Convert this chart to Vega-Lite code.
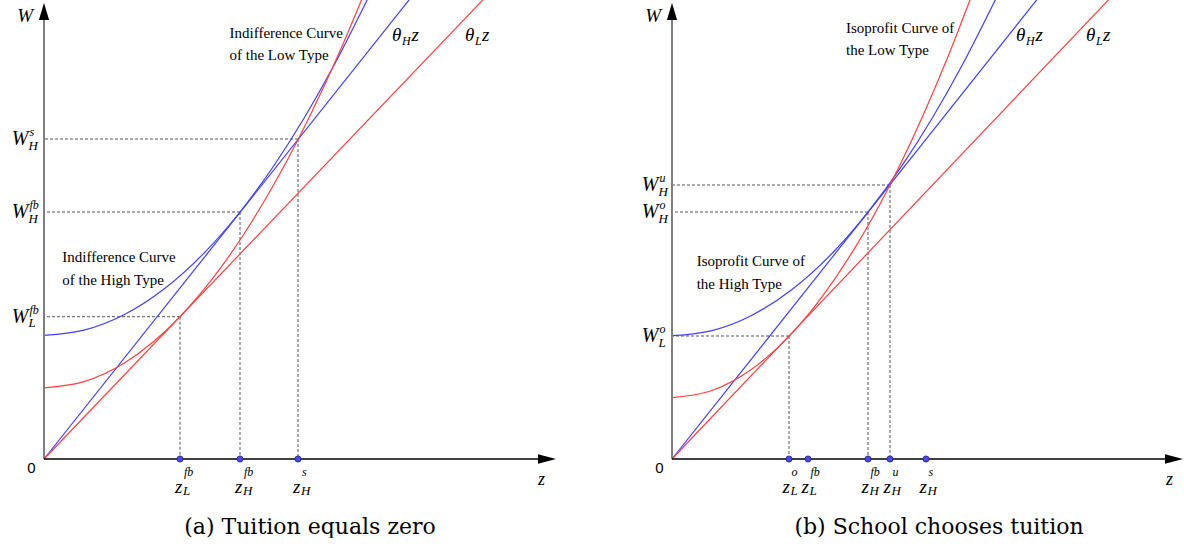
{
  "$schema": "https://vega.github.io/schema/vega-lite/v6.json",
  "padding": 0,
  "spacing": 0,
  "bounds": "flush",
  "background": "white",
  "config": {"view": {"stroke": null}, "axis": {"disable": true}, "legend": {"disable": true}},
  "datasets": {
    "curves": [
      {"p": "a", "s": "thetaH", "z": 0, "W": 0}, {"p": "a", "s": "thetaH", "z": 370, "W": 465.3},
      {"p": "a", "s": "thetaL", "z": 0, "W": 0}, {"p": "a", "s": "thetaL", "z": 445, "W": 465.5},
      {"p": "a", "s": "hi", "z": 0, "W": 123.7}, {"p": "a", "s": "hi", "z": 40, "W": 128.8}, {"p": "a", "s": "hi", "z": 80, "W": 144.2}, {"p": "a", "s": "hi", "z": 120, "W": 169.9}, {"p": "a", "s": "hi", "z": 160, "W": 205.9}, {"p": "a", "s": "hi", "z": 196, "W": 247.0}, {"p": "a", "s": "hi", "z": 230, "W": 293.5}, {"p": "a", "s": "hi", "z": 260, "W": 340.7}, {"p": "a", "s": "hi", "z": 290, "W": 393.7}, {"p": "a", "s": "hi", "z": 325, "W": 462.8},
      {"p": "a", "s": "lo", "z": 0, "W": 71.2}, {"p": "a", "s": "lo", "z": 40, "W": 77.4}, {"p": "a", "s": "lo", "z": 80, "W": 95.8}, {"p": "a", "s": "lo", "z": 110, "W": 117.7}, {"p": "a", "s": "lo", "z": 136, "W": 142.3}, {"p": "a", "s": "lo", "z": 170, "W": 182.3}, {"p": "a", "s": "lo", "z": 200, "W": 225.0}, {"p": "a", "s": "lo", "z": 230, "W": 274.7}, {"p": "a", "s": "lo", "z": 254, "W": 319.3}, {"p": "a", "s": "lo", "z": 280, "W": 372.7}, {"p": "a", "s": "lo", "z": 300, "W": 417.3}, {"p": "a", "s": "lo", "z": 320, "W": 465.0},
      {"p": "b", "s": "thetaH", "z": 0, "W": 0}, {"p": "b", "s": "thetaH", "z": 370, "W": 465.8},
      {"p": "b", "s": "thetaL", "z": 0, "W": 0}, {"p": "b", "s": "thetaL", "z": 445, "W": 468.1},
      {"p": "b", "s": "hi", "z": 0, "W": 123.3}, {"p": "b", "s": "hi", "z": 40, "W": 128.4}, {"p": "b", "s": "hi", "z": 80, "W": 143.8}, {"p": "b", "s": "hi", "z": 120, "W": 169.5}, {"p": "b", "s": "hi", "z": 160, "W": 205.5}, {"p": "b", "s": "hi", "z": 196, "W": 246.8}, {"p": "b", "s": "hi", "z": 230, "W": 293.3}, {"p": "b", "s": "hi", "z": 260, "W": 340.5}, {"p": "b", "s": "hi", "z": 290, "W": 393.5}, {"p": "b", "s": "hi", "z": 325, "W": 462.5},
      {"p": "b", "s": "lo", "z": 0, "W": 61.3}, {"p": "b", "s": "lo", "z": 40, "W": 68.5}, {"p": "b", "s": "lo", "z": 80, "W": 90.0}, {"p": "b", "s": "lo", "z": 117, "W": 122.6}, {"p": "b", "s": "lo", "z": 150, "W": 162.1}, {"p": "b", "s": "lo", "z": 180, "W": 206.4}, {"p": "b", "s": "lo", "z": 218, "W": 274.1}, {"p": "b", "s": "lo", "z": 250, "W": 341.2}, {"p": "b", "s": "lo", "z": 275, "W": 399.9}, {"p": "b", "s": "lo", "z": 300, "W": 464.3}
    ],
    "guides": [
      {"p": "a", "z": 136, "W": 142.3}, {"p": "a", "z": 196, "W": 247}, {"p": "a", "z": 254, "W": 320},
      {"p": "b", "z": 117, "W": 123}, {"p": "b", "z": 196, "W": 247}, {"p": "b", "z": 218, "W": 274}
    ],
    "dots": [
      {"p": "a", "z": 136}, {"p": "a", "z": 196}, {"p": "a", "z": 254},
      {"p": "b", "z": 117}, {"p": "b", "z": 136}, {"p": "b", "z": 196}, {"p": "b", "z": 218}, {"p": "b", "z": 254}
    ],
    "wlabels": [
      {"p": "a", "W": 320, "main": "W", "sub": "H", "sup": "s"},
      {"p": "a", "W": 247, "main": "W", "sub": "H", "sup": "fb"},
      {"p": "a", "W": 142.3, "main": "W", "sub": "L", "sup": "fb"},
      {"p": "b", "W": 274, "main": "W", "sub": "H", "sup": "u"},
      {"p": "b", "W": 247, "main": "W", "sub": "H", "sup": "o"},
      {"p": "b", "W": 123, "main": "W", "sub": "L", "sup": "o"}
    ],
    "zlabels": [
      {"p": "a", "z": 136, "main": "z", "sub": "L", "sup": "fb"},
      {"p": "a", "z": 196, "main": "z", "sub": "H", "sup": "fb"},
      {"p": "a", "z": 254, "main": "z", "sub": "H", "sup": "s"},
      {"p": "b", "z": 117, "main": "z", "sub": "L", "sup": "o"},
      {"p": "b", "z": 136, "main": "z", "sub": "L", "sup": "fb"},
      {"p": "b", "z": 196, "main": "z", "sub": "H", "sup": "fb"},
      {"p": "b", "z": 218, "main": "z", "sub": "H", "sup": "u"},
      {"p": "b", "z": 254, "main": "z", "sub": "H", "sup": "s"}
    ],
    "thetas": [
      {"p": "a", "z": 348, "W": 418, "main": "θ", "sub": "H", "tail": "z"},
      {"p": "a", "z": 421, "W": 418, "main": "θ", "sub": "L", "tail": "z"},
      {"p": "b", "z": 344, "W": 418, "main": "θ", "sub": "H", "tail": "z"},
      {"p": "b", "z": 414, "W": 418, "main": "θ", "sub": "L", "tail": "z"}
    ],
    "notes": [
      {"p": "a", "z": 185.5, "W": 421.3, "text": "Indifference Curve"},
      {"p": "a", "z": 185.5, "W": 399, "text": "of the Low Type"},
      {"p": "a", "z": 18.3, "W": 197.3, "text": "Indifference Curve"},
      {"p": "a", "z": 18.3, "W": 174, "text": "of the High Type"},
      {"p": "b", "z": 174, "W": 426.3, "text": "Isoprofit Curve of"},
      {"p": "b", "z": 174, "W": 404, "text": "the Low Type"},
      {"p": "b", "z": 24.7, "W": 193, "text": "Isoprofit Curve of"},
      {"p": "b", "z": 24.7, "W": 169.7, "text": "the High Type"}
    ],
    "axisW": [{"p": "a", "lo": 0, "hi": 442}, {"p": "b", "lo": 0, "hi": 442}],
    "axisZ": [{"p": "a", "lo": 0, "hi": 496}, {"p": "b", "lo": 0, "hi": 496}],
    "arrowZ": [{"p": "a", "z": 512, "W": 0}, {"p": "b", "z": 511, "W": 0}],
    "arrowW": [{"p": "a", "z": 0, "W": 456}, {"p": "b", "z": 0, "W": 456}],
    "origin": [{"p": "a", "z": 0, "W": 0, "t": "0"}, {"p": "b", "z": 0, "W": 0, "t": "0"}],
    "titleW": [{"p": "a", "z": 0, "W": 437, "t": "W"}, {"p": "b", "z": 0, "W": 437, "t": "W"}],
    "titleZ": [{"p": "a", "z": 497.5, "W": -26, "t": "z"}, {"p": "b", "z": 497.5, "W": -26, "t": "z"}]
  },
  "hconcat": [
    {
      "width": 628,
      "height": 500,
      "title": {"text": "(a) Tuition equals zero", "orient": "bottom", "frame": "group", "anchor": "middle", "offset": 34, "baseline": "alphabetic", "dx": -4, "font": "DejaVu Serif", "fontSize": 22, "fontWeight": "normal", "color": "#000000"},
      "layer": [
        {
          "data": {"name": "guides"},
          "transform": [{"filter": "datum.p == 'a'"}],
          "mark": {"type": "rule", "strokeDash": [3, 2], "color": "#555555", "strokeWidth": 1},
          "encoding": {
            "x": {"field": "z", "type": "quantitative", "scale": {"domain": [-44, 584], "nice": false, "zero": false}},
            "x2": {"datum": 0},
            "y": {"field": "W", "type": "quantitative", "scale": {"domain": [-41, 459], "nice": false, "zero": false}}
          }
        },
        {
          "data": {"name": "guides"},
          "transform": [{"filter": "datum.p == 'a'"}],
          "mark": {"type": "rule", "strokeDash": [3, 2], "color": "#555555", "strokeWidth": 1},
          "encoding": {
            "x": {"field": "z", "type": "quantitative"},
            "y": {"field": "W", "type": "quantitative"},
            "y2": {"datum": 0}
          }
        },
        {
          "data": {"name": "curves"},
          "transform": [{"filter": "datum.p == 'a'"}],
          "mark": {"type": "line", "clip": true, "strokeWidth": 1.2, "interpolate": "monotone"},
          "encoding": {
            "x": {"field": "z", "type": "quantitative"},
            "y": {"field": "W", "type": "quantitative"},
            "color": {"field": "s", "type": "nominal", "legend": null, "scale": {"domain": ["thetaH", "thetaL", "hi", "lo"], "range": ["#3f3fff", "#ff3f3f", "#3f3fff", "#ff3f3f"]}}
          }
        },
        {
          "data": {"name": "axisW"},
          "transform": [{"filter": "datum.p == 'a'"}],
          "mark": {"type": "rule", "color": "#808080", "strokeWidth": 2},
          "encoding": {"x": {"field": "lo", "type": "quantitative"}, "y": {"field": "lo", "type": "quantitative"}, "y2": {"field": "hi"}}
        },
        {
          "data": {"name": "axisZ"},
          "transform": [{"filter": "datum.p == 'a'"}],
          "mark": {"type": "rule", "color": "#000000", "strokeWidth": 1.5},
          "encoding": {"x": {"field": "lo", "type": "quantitative"}, "x2": {"field": "hi"}, "y": {"field": "lo", "type": "quantitative"}}
        },
        {
          "data": {"name": "arrowZ"},
          "transform": [{"filter": "datum.p == 'a'"}],
          "mark": {"type": "point", "shape": "M0,0L-1,-0.27L-1,0.27Z", "size": 1296, "filled": true, "color": "#000000", "opacity": 1, "strokeWidth": 0},
          "encoding": {"x": {"field": "z", "type": "quantitative"}, "y": {"field": "W", "type": "quantitative"}}
        },
        {
          "data": {"name": "arrowW"},
          "transform": [{"filter": "datum.p == 'a'"}],
          "mark": {"type": "point", "shape": "M0,0L-0.3,1L0.3,1Z", "size": 1156, "filled": true, "color": "#000000", "opacity": 1, "strokeWidth": 0},
          "encoding": {"x": {"field": "z", "type": "quantitative"}, "y": {"field": "W", "type": "quantitative"}}
        },
        {
          "data": {"name": "dots"},
          "transform": [{"filter": "datum.p == 'a'"}, {"calculate": "0", "as": "W"}],
          "mark": {"type": "point", "shape": "circle", "size": 38, "filled": true, "fill": "#4848ff", "stroke": "#202070", "strokeWidth": 0.8, "opacity": 1},
          "encoding": {"x": {"field": "z", "type": "quantitative"}, "y": {"field": "W", "type": "quantitative"}}
        },
        {
          "data": {"name": "wlabels"},
          "transform": [{"filter": "datum.p == 'a'"}, {"calculate": "0", "as": "z"}],
          "layer": [
            {"mark": {"type": "text", "align": "right", "dx": -15.5, "dy": 6, "baseline": "alphabetic", "font": "Liberation Serif", "fontStyle": "italic", "fontSize": 20, "color": "#000000"},
             "encoding": {"x": {"field": "z", "type": "quantitative"}, "y": {"field": "W", "type": "quantitative"}, "text": {"field": "main", "type": "nominal"}}},
            {"mark": {"type": "text", "align": "left", "dx": -15.5, "dy": 10.5, "baseline": "alphabetic", "font": "Liberation Serif", "fontStyle": "italic", "fontSize": 13, "color": "#000000"},
             "encoding": {"x": {"field": "z", "type": "quantitative"}, "y": {"field": "W", "type": "quantitative"}, "text": {"field": "sub", "type": "nominal"}}},
            {"mark": {"type": "text", "align": "left", "dx": -14.5, "dy": -3, "baseline": "alphabetic", "font": "Liberation Serif", "fontStyle": "italic", "fontSize": 12, "color": "#000000"},
             "encoding": {"x": {"field": "z", "type": "quantitative"}, "y": {"field": "W", "type": "quantitative"}, "text": {"field": "sup", "type": "nominal"}}}
          ]
        },
        {
          "data": {"name": "zlabels"},
          "transform": [{"filter": "datum.p == 'a'"}, {"calculate": "0", "as": "W"}],
          "layer": [
            {"mark": {"type": "text", "align": "right", "dx": 2.5, "dy": 34, "baseline": "alphabetic", "font": "Liberation Serif", "fontStyle": "italic", "fontSize": 19, "color": "#000000"},
             "encoding": {"x": {"field": "z", "type": "quantitative"}, "y": {"field": "W", "type": "quantitative"}, "text": {"field": "main", "type": "nominal"}}},
            {"mark": {"type": "text", "align": "left", "dx": 3, "dy": 36, "baseline": "alphabetic", "font": "Liberation Serif", "fontStyle": "italic", "fontSize": 13, "color": "#000000"},
             "encoding": {"x": {"field": "z", "type": "quantitative"}, "y": {"field": "W", "type": "quantitative"}, "text": {"field": "sub", "type": "nominal"}}},
            {"mark": {"type": "text", "align": "left", "dx": 4, "dy": 17, "baseline": "alphabetic", "font": "Liberation Serif", "fontStyle": "italic", "fontSize": 12, "color": "#000000"},
             "encoding": {"x": {"field": "z", "type": "quantitative"}, "y": {"field": "W", "type": "quantitative"}, "text": {"field": "sup", "type": "nominal"}}}
          ]
        },
        {
          "data": {"name": "thetas"},
          "transform": [{"filter": "datum.p == 'a'"}],
          "layer": [
            {"mark": {"type": "text", "align": "left", "baseline": "alphabetic", "font": "Liberation Serif", "fontStyle": "italic", "fontSize": 19, "color": "#000000"},
             "encoding": {"x": {"field": "z", "type": "quantitative"}, "y": {"field": "W", "type": "quantitative"}, "text": {"field": "main", "type": "nominal"}}},
            {"mark": {"type": "text", "align": "left", "dx": 10, "dy": 4, "baseline": "alphabetic", "font": "Liberation Serif", "fontStyle": "italic", "fontSize": 12, "color": "#000000"},
             "encoding": {"x": {"field": "z", "type": "quantitative"}, "y": {"field": "W", "type": "quantitative"}, "text": {"field": "sub", "type": "nominal"}}},
            {"transform": [{"filter": "datum.sub == 'H'"}],
             "mark": {"type": "text", "align": "left", "dx": 19.5, "baseline": "alphabetic", "font": "Liberation Serif", "fontStyle": "italic", "fontSize": 19, "color": "#000000"},
             "encoding": {"x": {"field": "z", "type": "quantitative"}, "y": {"field": "W", "type": "quantitative"}, "text": {"field": "tail", "type": "nominal"}}},
            {"transform": [{"filter": "datum.sub == 'L'"}],
             "mark": {"type": "text", "align": "left", "dx": 17, "baseline": "alphabetic", "font": "Liberation Serif", "fontStyle": "italic", "fontSize": 19, "color": "#000000"},
             "encoding": {"x": {"field": "z", "type": "quantitative"}, "y": {"field": "W", "type": "quantitative"}, "text": {"field": "tail", "type": "nominal"}}}
          ]
        },
        {
          "data": {"name": "notes"},
          "transform": [{"filter": "datum.p == 'a'"}],
          "mark": {"type": "text", "align": "left", "baseline": "alphabetic", "font": "Liberation Serif", "fontSize": 15, "color": "#000000"},
          "encoding": {"x": {"field": "z", "type": "quantitative"}, "y": {"field": "W", "type": "quantitative"}, "text": {"field": "text", "type": "nominal"}}
        },
        {
          "data": {"name": "origin"},
          "transform": [{"filter": "datum.p == 'a'"}],
          "mark": {"type": "text", "align": "center", "dx": -12.5, "dy": 14, "baseline": "alphabetic", "font": "Liberation Sans", "fontSize": 15, "color": "#000000"},
          "encoding": {"x": {"field": "z", "type": "quantitative"}, "y": {"field": "W", "type": "quantitative"}, "text": {"field": "t", "type": "nominal"}}
        },
        {
          "data": {"name": "titleW"},
          "transform": [{"filter": "datum.p == 'a'"}],
          "mark": {"type": "text", "align": "right", "dx": -11, "baseline": "alphabetic", "font": "Liberation Serif", "fontStyle": "italic", "fontSize": 19, "color": "#000000"},
          "encoding": {"x": {"field": "z", "type": "quantitative"}, "y": {"field": "W", "type": "quantitative"}, "text": {"field": "t", "type": "nominal"}}
        },
        {
          "data": {"name": "titleZ"},
          "transform": [{"filter": "datum.p == 'a'"}],
          "mark": {"type": "text", "align": "center", "baseline": "alphabetic", "font": "Liberation Serif", "fontStyle": "italic", "fontSize": 18, "color": "#000000"},
          "encoding": {"x": {"field": "z", "type": "quantitative"}, "y": {"field": "W", "type": "quantitative"}, "text": {"field": "t", "type": "nominal"}}
        }
      ]
    },
    {
      "width": 556,
      "height": 500,
      "title": {"text": "(b) School chooses tuition", "orient": "bottom", "frame": "group", "anchor": "middle", "offset": 34, "baseline": "alphabetic", "dx": 33, "font": "DejaVu Serif", "fontSize": 22, "fontWeight": "normal", "color": "#000000"},
      "layer": [
        {
          "data": {"name": "guides"},
          "transform": [{"filter": "datum.p == 'b'"}],
          "mark": {"type": "rule", "strokeDash": [3, 2], "color": "#555555", "strokeWidth": 1},
          "encoding": {
            "x": {"field": "z", "type": "quantitative", "scale": {"domain": [-44, 512], "nice": false, "zero": false}},
            "x2": {"datum": 0},
            "y": {"field": "W", "type": "quantitative", "scale": {"domain": [-41, 459], "nice": false, "zero": false}}
          }
        },
        {
          "data": {"name": "guides"},
          "transform": [{"filter": "datum.p == 'b'"}],
          "mark": {"type": "rule", "strokeDash": [3, 2], "color": "#555555", "strokeWidth": 1},
          "encoding": {
            "x": {"field": "z", "type": "quantitative"},
            "y": {"field": "W", "type": "quantitative"},
            "y2": {"datum": 0}
          }
        },
        {
          "data": {"name": "curves"},
          "transform": [{"filter": "datum.p == 'b'"}],
          "mark": {"type": "line", "clip": true, "strokeWidth": 1.2, "interpolate": "monotone"},
          "encoding": {
            "x": {"field": "z", "type": "quantitative"},
            "y": {"field": "W", "type": "quantitative"},
            "color": {"field": "s", "type": "nominal", "legend": null, "scale": {"domain": ["thetaH", "thetaL", "hi", "lo"], "range": ["#3f3fff", "#ff3f3f", "#3f3fff", "#ff3f3f"]}}
          }
        },
        {
          "data": {"name": "axisW"},
          "transform": [{"filter": "datum.p == 'b'"}],
          "mark": {"type": "rule", "color": "#808080", "strokeWidth": 2},
          "encoding": {"x": {"field": "lo", "type": "quantitative"}, "y": {"field": "lo", "type": "quantitative"}, "y2": {"field": "hi"}}
        },
        {
          "data": {"name": "axisZ"},
          "transform": [{"filter": "datum.p == 'b'"}],
          "mark": {"type": "rule", "color": "#000000", "strokeWidth": 1.5},
          "encoding": {"x": {"field": "lo", "type": "quantitative"}, "x2": {"field": "hi"}, "y": {"field": "lo", "type": "quantitative"}}
        },
        {
          "data": {"name": "arrowZ"},
          "transform": [{"filter": "datum.p == 'b'"}],
          "mark": {"type": "point", "shape": "M0,0L-1,-0.27L-1,0.27Z", "size": 1296, "filled": true, "color": "#000000", "opacity": 1, "strokeWidth": 0},
          "encoding": {"x": {"field": "z", "type": "quantitative"}, "y": {"field": "W", "type": "quantitative"}}
        },
        {
          "data": {"name": "arrowW"},
          "transform": [{"filter": "datum.p == 'b'"}],
          "mark": {"type": "point", "shape": "M0,0L-0.3,1L0.3,1Z", "size": 1156, "filled": true, "color": "#000000", "opacity": 1, "strokeWidth": 0},
          "encoding": {"x": {"field": "z", "type": "quantitative"}, "y": {"field": "W", "type": "quantitative"}}
        },
        {
          "data": {"name": "dots"},
          "transform": [{"filter": "datum.p == 'b'"}, {"calculate": "0", "as": "W"}],
          "mark": {"type": "point", "shape": "circle", "size": 38, "filled": true, "fill": "#4848ff", "stroke": "#202070", "strokeWidth": 0.8, "opacity": 1},
          "encoding": {"x": {"field": "z", "type": "quantitative"}, "y": {"field": "W", "type": "quantitative"}}
        },
        {
          "data": {"name": "wlabels"},
          "transform": [{"filter": "datum.p == 'b'"}, {"calculate": "0", "as": "z"}],
          "layer": [
            {"mark": {"type": "text", "align": "right", "dx": -13.5, "dy": 6, "baseline": "alphabetic", "font": "Liberation Serif", "fontStyle": "italic", "fontSize": 20, "color": "#000000"},
             "encoding": {"x": {"field": "z", "type": "quantitative"}, "y": {"field": "W", "type": "quantitative"}, "text": {"field": "main", "type": "nominal"}}},
            {"mark": {"type": "text", "align": "left", "dx": -13.5, "dy": 10.5, "baseline": "alphabetic", "font": "Liberation Serif", "fontStyle": "italic", "fontSize": 13, "color": "#000000"},
             "encoding": {"x": {"field": "z", "type": "quantitative"}, "y": {"field": "W", "type": "quantitative"}, "text": {"field": "sub", "type": "nominal"}}},
            {"mark": {"type": "text", "align": "left", "dx": -12.5, "dy": -3, "baseline": "alphabetic", "font": "Liberation Serif", "fontStyle": "italic", "fontSize": 12, "color": "#000000"},
             "encoding": {"x": {"field": "z", "type": "quantitative"}, "y": {"field": "W", "type": "quantitative"}, "text": {"field": "sup", "type": "nominal"}}}
          ]
        },
        {
          "data": {"name": "zlabels"},
          "transform": [{"filter": "datum.p == 'b'"}, {"calculate": "0", "as": "W"}],
          "layer": [
            {"mark": {"type": "text", "align": "right", "dx": 1, "dy": 34, "baseline": "alphabetic", "font": "Liberation Serif", "fontStyle": "italic", "fontSize": 19, "color": "#000000"},
             "encoding": {"x": {"field": "z", "type": "quantitative"}, "y": {"field": "W", "type": "quantitative"}, "text": {"field": "main", "type": "nominal"}}},
            {"mark": {"type": "text", "align": "left", "dx": 1.5, "dy": 36, "baseline": "alphabetic", "font": "Liberation Serif", "fontStyle": "italic", "fontSize": 13, "color": "#000000"},
             "encoding": {"x": {"field": "z", "type": "quantitative"}, "y": {"field": "W", "type": "quantitative"}, "text": {"field": "sub", "type": "nominal"}}},
            {"mark": {"type": "text", "align": "left", "dx": 2.5, "dy": 17, "baseline": "alphabetic", "font": "Liberation Serif", "fontStyle": "italic", "fontSize": 12, "color": "#000000"},
             "encoding": {"x": {"field": "z", "type": "quantitative"}, "y": {"field": "W", "type": "quantitative"}, "text": {"field": "sup", "type": "nominal"}}}
          ]
        },
        {
          "data": {"name": "thetas"},
          "transform": [{"filter": "datum.p == 'b'"}],
          "layer": [
            {"mark": {"type": "text", "align": "left", "baseline": "alphabetic", "font": "Liberation Serif", "fontStyle": "italic", "fontSize": 19, "color": "#000000"},
             "encoding": {"x": {"field": "z", "type": "quantitative"}, "y": {"field": "W", "type": "quantitative"}, "text": {"field": "main", "type": "nominal"}}},
            {"mark": {"type": "text", "align": "left", "dx": 10, "dy": 4, "baseline": "alphabetic", "font": "Liberation Serif", "fontStyle": "italic", "fontSize": 12, "color": "#000000"},
             "encoding": {"x": {"field": "z", "type": "quantitative"}, "y": {"field": "W", "type": "quantitative"}, "text": {"field": "sub", "type": "nominal"}}},
            {"transform": [{"filter": "datum.sub == 'H'"}],
             "mark": {"type": "text", "align": "left", "dx": 19.5, "baseline": "alphabetic", "font": "Liberation Serif", "fontStyle": "italic", "fontSize": 19, "color": "#000000"},
             "encoding": {"x": {"field": "z", "type": "quantitative"}, "y": {"field": "W", "type": "quantitative"}, "text": {"field": "tail", "type": "nominal"}}},
            {"transform": [{"filter": "datum.sub == 'L'"}],
             "mark": {"type": "text", "align": "left", "dx": 17, "baseline": "alphabetic", "font": "Liberation Serif", "fontStyle": "italic", "fontSize": 19, "color": "#000000"},
             "encoding": {"x": {"field": "z", "type": "quantitative"}, "y": {"field": "W", "type": "quantitative"}, "text": {"field": "tail", "type": "nominal"}}}
          ]
        },
        {
          "data": {"name": "notes"},
          "transform": [{"filter": "datum.p == 'b'"}],
          "mark": {"type": "text", "align": "left", "baseline": "alphabetic", "font": "Liberation Serif", "fontSize": 15, "color": "#000000"},
          "encoding": {"x": {"field": "z", "type": "quantitative"}, "y": {"field": "W", "type": "quantitative"}, "text": {"field": "text", "type": "nominal"}}
        },
        {
          "data": {"name": "origin"},
          "transform": [{"filter": "datum.p == 'b'"}],
          "mark": {"type": "text", "align": "center", "dx": -12.5, "dy": 14, "baseline": "alphabetic", "font": "Liberation Sans", "fontSize": 15, "color": "#000000"},
          "encoding": {"x": {"field": "z", "type": "quantitative"}, "y": {"field": "W", "type": "quantitative"}, "text": {"field": "t", "type": "nominal"}}
        },
        {
          "data": {"name": "titleW"},
          "transform": [{"filter": "datum.p == 'b'"}],
          "mark": {"type": "text", "align": "right", "dx": -11, "baseline": "alphabetic", "font": "Liberation Serif", "fontStyle": "italic", "fontSize": 19, "color": "#000000"},
          "encoding": {"x": {"field": "z", "type": "quantitative"}, "y": {"field": "W", "type": "quantitative"}, "text": {"field": "t", "type": "nominal"}}
        },
        {
          "data": {"name": "titleZ"},
          "transform": [{"filter": "datum.p == 'b'"}],
          "mark": {"type": "text", "align": "center", "baseline": "alphabetic", "font": "Liberation Serif", "fontStyle": "italic", "fontSize": 18, "color": "#000000"},
          "encoding": {"x": {"field": "z", "type": "quantitative"}, "y": {"field": "W", "type": "quantitative"}, "text": {"field": "t", "type": "nominal"}}
        }
      ]
    }
  ]
}
